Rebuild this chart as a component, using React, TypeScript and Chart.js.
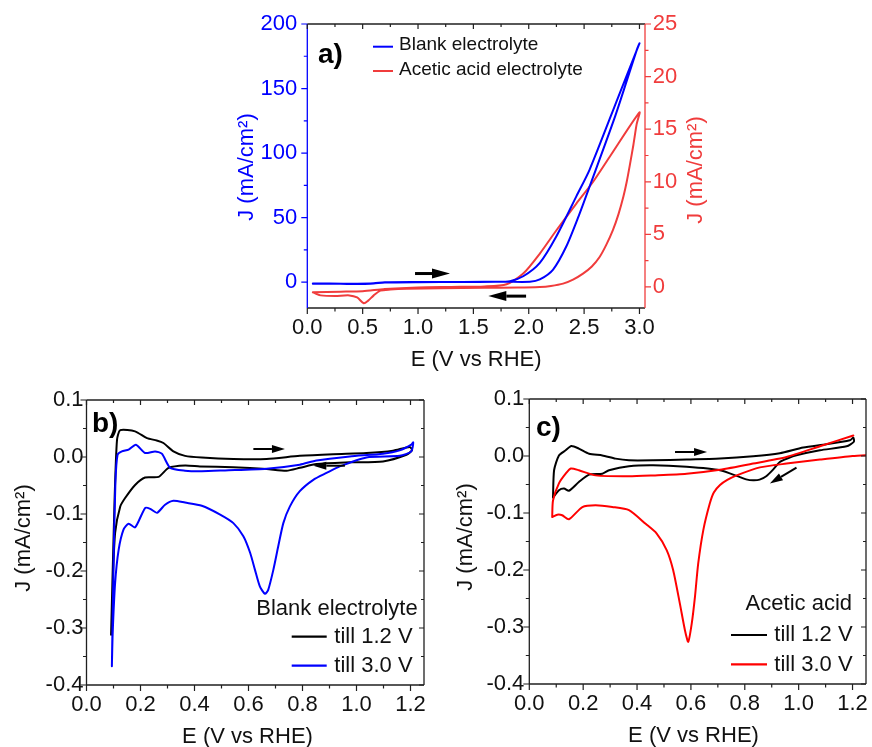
import React, { useEffect, useRef } from 'react';
import { Chart, registerables } from 'chart.js';
Chart.register(...registerables);

const FONT = '"Liberation Sans", Arial, Helvetica, sans-serif';
const BLUE = '#0000ff';
const RED_A = '#f03c3c';
const RED_C = '#ff0000';
const BLACK = '#000000';
const AXIS = '#1f1f1f';
const TEXT = '#111111';

// ---------- Panel a) data ----------
const aBlankE = [0.05,0.3,0.5,0.6,0.7,1.0,1.4,1.7,1.83,1.95,2.10,2.25,2.43,2.55,2.81,3.0,2.976,2.78,2.55,2.45,2.34,2.22,2.10,2.01,1.8,1.4,1.0,0.7,0.6,0.45,0.2,0.05];
const aBlankJ = [-1.2,-1.3,-1.4,-1.0,-0.3,0,0.1,0.3,0.8,4.6,15.0,35.6,66.5,87.2,143.8,185,180,128.4,74.2,51,27.8,9.8,2.1,0.3,0.3,0.2,0.1,-0.1,-0.9,-1.2,-1.1,-1.1];
const aAceticE = [0.05,0.3,0.5,0.7,1.0,1.3,1.6,1.8,1.95,2.10,2.25,2.43,2.58,2.73,3.0,2.975,2.945,2.915,2.885,2.855,2.81,2.76,2.70,2.64,2.57,2.49,2.40,2.31,2.2,2.10,1.9,1.6,1.2,0.9,0.75,0.66,0.6,0.55,0.51,0.45,0.38,0.25,0.12,0.08,0.05];
const aAceticJ = [-0.5,-0.45,-0.4,-0.2,-0.05,0,0.05,0.26,1.27,3.17,5.39,7.93,9.98,12.36,16.6,15.5,13.5,11.7,10.0,8.6,6.9,5.4,4.0,2.85,1.95,1.27,0.7,0.32,0.1,0.0,-0.06,-0.08,-0.12,-0.18,-0.25,-0.35,-0.8,-1.3,-1.55,-1.0,-0.8,-0.85,-0.8,-0.65,-0.5];
const aXTicks = [0, 0.5, 1.0, 1.5, 2.0, 2.5, 3.0];
const aLeftTicks = [0, 50, 100, 150, 200];
const aRightTicks = [0, 5, 10, 15, 20, 25];
const aArrowFwd = [0.973, 6.7, 1.289, 6.7];
const aArrowRev = [1.976, -10.8, 1.635, -10.8];
const aLegend = ['Blank electrolyte', 'Acetic acid electrolyte'];

// ---------- Panel b) data ----------
const bTill12E = [0.091,0.104,0.113,0.125,0.18,0.224,0.26,0.285,0.322,0.365,0.427,0.544,0.667,0.79,0.914,1.037,1.135,1.197,1.206,1.185,1.098,0.975,0.852,0.79,0.741,0.667,0.544,0.42,0.365,0.304,0.267,0.217,0.18,0.143,0.125,0.106,0.097,0.091];
const bTill12J = [-0.312,-0.075,0.030,0.047,0.045,0.033,0.029,0.0245,0.010,0.002,-0.001,-0.0035,-0.0035,0.002,0.005,0.007,0.011,0.0175,0.012,0.004,-0.0077,-0.0094,-0.0123,-0.019,-0.024,-0.021,-0.018,-0.0165,-0.015,-0.019,-0.035,-0.036,-0.049,-0.072,-0.087,-0.133,-0.221,-0.312];
const bTill30E = [0.094,0.10,0.107,0.115,0.131,0.156,0.183,0.217,0.254,0.279,0.31,0.365,0.427,0.513,0.667,0.79,0.852,0.975,1.098,1.16,1.203,1.21,1.203,1.16,1.037,0.938,0.889,0.84,0.79,0.753,0.729,0.71,0.692,0.673,0.661,0.642,0.624,0.606,0.581,0.544,0.495,0.427,0.365,0.322,0.291,0.261,0.236,0.217,0.18,0.156,0.137,0.119,0.106,0.097,0.094];
const bTill30J = [-0.367,-0.19,-0.046,0.004,0.0098,0.0128,0.0216,0.007,0.0098,0.0058,-0.019,-0.024,-0.025,-0.0235,-0.0205,-0.0135,-0.006,0.001,0.0058,0.0116,0.0216,0.0256,0.0098,0.002,-0.0007,-0.0165,-0.028,-0.04,-0.06,-0.087,-0.116,-0.157,-0.198,-0.233,-0.24,-0.227,-0.198,-0.168,-0.139,-0.116,-0.101,-0.0855,-0.080,-0.0767,-0.0837,-0.098,-0.091,-0.0895,-0.1235,-0.117,-0.1275,-0.163,-0.221,-0.309,-0.367];
const bArrowFwd = [0.618, 0.014, 0.735, 0.014];
const bArrowRev = [0.957, -0.0153, 0.840, -0.0153];
const bLegendTitle = 'Blank electrolyte';

// ---------- Panel c) data ----------
const cTill12E = [0.088,0.092,0.11,0.135,0.156,0.184,0.222,0.271,0.32,0.37,0.46,0.584,0.708,0.831,0.93,1.017,1.103,1.19,1.203,1.205,1.178,1.079,0.992,0.96,0.93,0.905,0.881,0.855,0.831,0.805,0.782,0.708,0.584,0.46,0.37,0.296,0.271,0.222,0.184,0.147,0.129,0.11,0.088];
const cTill12J = [-0.073,-0.025,0.001,0.010,0.0175,0.013,0.004,0.001,-0.0046,-0.0075,-0.0075,-0.0063,-0.0046,-0.0005,0.005,0.015,0.0205,0.0275,0.032,0.025,0.017,0.01,0.0012,-0.004,-0.0105,-0.024,-0.035,-0.0415,-0.0426,-0.041,-0.037,-0.025,-0.019,-0.0163,-0.018,-0.025,-0.031,-0.0327,-0.0456,-0.061,-0.057,-0.060,-0.073];
const cTill30E = [0.085,0.088,0.11,0.135,0.154,0.184,0.246,0.37,0.46,0.584,0.708,0.831,0.955,1.079,1.203,1.24,1.27,1.2,1.079,0.955,0.856,0.77,0.735,0.708,0.685,0.67,0.646,0.627,0.615,0.603,0.59,0.578,0.559,0.534,0.51,0.473,0.432,0.37,0.308,0.246,0.197,0.147,0.122,0.104,0.085];
const cTill30J = [-0.107,-0.078,-0.048,-0.031,-0.022,-0.025,-0.034,-0.0356,-0.034,-0.031,-0.024,-0.0133,-0.0017,0.017,0.036,null,0.002,0,-0.0063,-0.0133,-0.020,-0.034,-0.042,-0.051,-0.064,-0.0835,-0.130,-0.189,-0.247,-0.294,-0.326,-0.306,-0.259,-0.20,-0.165,-0.136,-0.119,-0.095,-0.0895,-0.0865,-0.0895,-0.111,-0.104,-0.103,-0.107];
const cArrowFwd = [0.541, 0.007, 0.660, 0.007];
const cArrowDiag = [0.992, -0.0204, 0.893, -0.0484];
const cLegendTitle = 'Acetic acid';

// ---------- shared for b) and c) ----------
const bcXTicks = [0, 0.2, 0.4, 0.6, 0.8, 1.0, 1.2];
const bcYTicks = [-0.4, -0.3, -0.2, -0.1, 0.0, 0.1];
const bcLegend = ['till 1.2 V', 'till 3.0 V'];
const xTitle = 'E (V vs RHE)';
const yTitle = 'J (mA/cm²)';

const pts = (xs: number[], ys: (number | null)[]) => xs.map((x, i) => ({ x, y: ys[i] }));
const steps = (from: number, to: number, step: number) => {
  const out: number[] = [];
  for (let i = 0; from + i * step <= to + 1e-9; i++) out.push(+(from + i * step).toFixed(6));
  return out;
};

function tickMarks(ctx: any, chart: any, id: string, side: string, values: number[], len: number, outward: boolean, color: string, lw = 1.2) {
  const s = chart.scales[id];
  const a = chart.chartArea;
  ctx.strokeStyle = color;
  ctx.lineWidth = lw;
  ctx.beginPath();
  for (const v of values) {
    if (v < s.min - 1e-9 || v > s.max + 1e-9) continue;
    const p = s.getPixelForValue(v);
    if (side === 'bottom') { ctx.moveTo(p, a.bottom); ctx.lineTo(p, a.bottom + (outward ? len : -len)); }
    else if (side === 'top') { ctx.moveTo(p, a.top); ctx.lineTo(p, a.top + (outward ? -len : len)); }
    else if (side === 'left') { ctx.moveTo(a.left, p); ctx.lineTo(a.left + (outward ? -len : len), p); }
    else { ctx.moveTo(a.right, p); ctx.lineTo(a.right + (outward ? len : -len), p); }
  }
  ctx.stroke();
}

function frame(ctx: any, chart: any, colors: { left: string; right: string; top: string; bottom: string }, lw = 1.3) {
  const a = chart.chartArea;
  const seg = (x0: number, y0: number, x1: number, y1: number, c: string) => {
    ctx.strokeStyle = c; ctx.lineWidth = lw; ctx.beginPath(); ctx.moveTo(x0, y0); ctx.lineTo(x1, y1); ctx.stroke();
  };
  seg(a.left, a.top, a.right, a.top, colors.top);
  seg(a.left, a.bottom, a.right, a.bottom, colors.bottom);
  seg(a.left, a.top, a.left, a.bottom, colors.left);
  seg(a.right, a.top, a.right, a.bottom, colors.right);
}

function arrow(ctx: any, chart: any, xId: string, yId: string, c: number[], color: string, headLen: number, headHalf: number, lw: number) {
  const xs = chart.scales[xId], ys = chart.scales[yId];
  const X0 = xs.getPixelForValue(c[0]), Y0 = ys.getPixelForValue(c[1]);
  const X1 = xs.getPixelForValue(c[2]), Y1 = ys.getPixelForValue(c[3]);
  const ang = Math.atan2(Y1 - Y0, X1 - X0);
  const bx = X1 - headLen * Math.cos(ang), by = Y1 - headLen * Math.sin(ang);
  ctx.strokeStyle = color; ctx.lineWidth = lw;
  ctx.beginPath(); ctx.moveTo(X0, Y0); ctx.lineTo(bx, by); ctx.stroke();
  ctx.fillStyle = color;
  ctx.beginPath();
  ctx.moveTo(X1, Y1);
  ctx.lineTo(bx + headHalf * Math.sin(ang), by - headHalf * Math.cos(ang));
  ctx.lineTo(bx - headHalf * Math.sin(ang), by + headHalf * Math.cos(ang));
  ctx.closePath(); ctx.fill();
}

function txt(ctx: any, s: string, x: number, y: number, font: string, color: string, align = 'left', rot = 0) {
  ctx.save();
  ctx.translate(x, y);
  if (rot) ctx.rotate(rot);
  ctx.font = font; ctx.fillStyle = color; ctx.textAlign = align; ctx.textBaseline = 'alphabetic';
  ctx.fillText(s, 0, 0);
  ctx.restore();
}

function seg(ctx: any, x0: number, y0: number, x1: number, y1: number, color: string, lw: number) {
  ctx.strokeStyle = color; ctx.lineWidth = lw; ctx.beginPath(); ctx.moveTo(x0, y0); ctx.lineTo(x1, y1); ctx.stroke();
}

function scaleOpt(min: number, max: number, ticks: number[], fmt: (v: number) => string, color: string, pad: number, fit: (s: any) => void, extra: any = {}) {
  return {
    type: 'linear', min, max,
    grid: { display: false, drawTicks: false },
    border: { display: false },
    afterBuildTicks: (s: any) => { s.ticks = ticks.map((v) => ({ value: v })); },
    afterFit: fit,
    ticks: { padding: pad, color, autoSkip: false, maxRotation: 0, font: { family: FONT, size: 22 }, callback: (v: any) => fmt(Number(v)) },
    ...extra,
  };
}

const lineDs = (data: any[], color: string, yAxisID = 'y', lw = 2, tension = 0.25) => ({
  data, showLine: true, borderColor: color, backgroundColor: color, borderWidth: lw, pointRadius: 0, tension, fill: false, yAxisID, spanGaps: false,
  borderJoinStyle: 'round', borderCapStyle: 'round',
});

const baseOpts = (padding: any) => ({
  animation: false, responsive: false, maintainAspectRatio: false, events: [],
  layout: { padding },
  plugins: { legend: { display: false }, tooltip: { enabled: false }, title: { display: false } },
});

function buildA() {
  const decor = {
    id: 'decorA',
    afterDraw(chart: any) {
      const ctx = chart.ctx; const a = chart.chartArea;
      ctx.save();
      frame(ctx, chart, { left: BLUE, right: RED_A, top: AXIS, bottom: AXIS });
      tickMarks(ctx, chart, 'x', 'bottom', aXTicks, 6, true, AXIS);
      tickMarks(ctx, chart, 'x', 'bottom', steps(0.25, 2.75, 0.5), 3.5, true, AXIS);
      tickMarks(ctx, chart, 'x', 'top', aXTicks, 5, false, AXIS);
      tickMarks(ctx, chart, 'x', 'top', steps(0.25, 2.75, 0.5), 3, false, AXIS);
      tickMarks(ctx, chart, 'y', 'left', aLeftTicks, 6, true, BLUE);
      tickMarks(ctx, chart, 'y', 'left', steps(25, 175, 50), 3.5, true, BLUE);
      tickMarks(ctx, chart, 'y1', 'right', aRightTicks, 6, true, RED_A);
      tickMarks(ctx, chart, 'y1', 'right', steps(2.5, 22.5, 5), 3.5, true, RED_A);
      arrow(ctx, chart, 'x', 'y', aArrowFwd, BLACK, 18, 5, 3);
      arrow(ctx, chart, 'x', 'y', aArrowRev, BLACK, 18, 5, 3);
      txt(ctx, 'a)', a.left + 10.7, a.top + 39.3, `bold 28px ${FONT}`, BLACK);
      seg(ctx, a.left + 65.7, a.top + 22.7, a.left + 85.7, a.top + 22.7, BLUE, 2);
      seg(ctx, a.left + 65.7, a.top + 47, a.left + 85.7, a.top + 47, RED_A, 2);
      txt(ctx, aLegend[0], a.left + 91.7, a.top + 26, `19px ${FONT}`, TEXT);
      txt(ctx, aLegend[1], a.left + 91.7, a.top + 51, `19px ${FONT}`, TEXT);
      const cy = (a.top + a.bottom) / 2;
      txt(ctx, yTitle, a.left - 54, cy + 1, `22px ${FONT}`, BLUE, 'center', -Math.PI / 2);
      txt(ctx, yTitle, a.right + 57, cy + 4, `22px ${FONT}`, RED_A, 'center', -Math.PI / 2);
      txt(ctx, xTitle, (a.left + a.right) / 2, a.bottom + 58, `22px ${FONT}`, TEXT, 'center');
      ctx.restore();
    },
  };
  return {
    type: 'scatter',
    data: { datasets: [lineDs(pts(aBlankE, aBlankJ), BLUE, 'y'), lineDs(pts(aAceticE, aAceticJ), RED_A, 'y1')] },
    options: {
      ...baseOpts({ top: 24, left: 0, right: 0, bottom: 0 }),
      scales: {
        x: scaleOpt(0, 3.05, aXTicks, (v) => v.toFixed(1), TEXT, 7, (s: any) => { s.height = 72; }, { position: 'bottom' }),
        y: scaleOpt(-20, 200, aLeftTicks, (v) => String(v), BLUE, 10, (s: any) => { s.width = 107.3; }, { position: 'left' }),
        y1: scaleOpt(-2, 25, aRightTicks, (v) => String(v), RED_A, 7.7, (s: any) => { s.width = 75; }, { position: 'right' }),
      },
    },
    plugins: [decor],
  };
}

function buildBC(which: 'b' | 'c') {
  const isB = which === 'b';
  const c2 = isB ? BLUE : RED_C;
  const decor = {
    id: 'decor' + which,
    afterDraw(chart: any) {
      const ctx = chart.ctx; const a = chart.chartArea;
      ctx.save();
      frame(ctx, chart, { left: AXIS, right: AXIS, top: AXIS, bottom: AXIS });
      tickMarks(ctx, chart, 'x', 'bottom', bcXTicks, 6, true, AXIS);
      tickMarks(ctx, chart, 'x', 'bottom', steps(0.1, 1.1, 0.2), 3.5, true, AXIS);
      tickMarks(ctx, chart, 'x', 'top', bcXTicks, 5, false, AXIS);
      tickMarks(ctx, chart, 'x', 'top', steps(0.1, 1.1, 0.2), 3, false, AXIS);
      tickMarks(ctx, chart, 'y', 'left', bcYTicks, 6, true, AXIS);
      tickMarks(ctx, chart, 'y', 'left', steps(-0.35, 0.05, 0.1), 3.5, true, AXIS);
      tickMarks(ctx, chart, 'y', 'right', bcYTicks, 5, false, AXIS);
      tickMarks(ctx, chart, 'y', 'right', steps(-0.35, 0.05, 0.1), 3, false, AXIS);
      const f = `22px ${FONT}`;
      if (isB) {
        arrow(ctx, chart, 'x', 'y', bArrowFwd, BLACK, 13, 4, 2);
        arrow(ctx, chart, 'x', 'y', bArrowRev, BLACK, 13, 4, 2);
        txt(ctx, 'b)', a.left + 5.5, a.top + 32, `bold 28px ${FONT}`, BLACK);
        txt(ctx, bLegendTitle, a.right - 6.3, a.top + 215, f, TEXT, 'right');
        seg(ctx, a.right - 132.3, a.top + 236.7, a.right - 97.3, a.top + 236.7, BLACK, 2.2);
        seg(ctx, a.right - 132.3, a.top + 265.7, a.right - 97.3, a.top + 265.7, c2, 2.2);
        txt(ctx, bcLegend[0], a.right - 89.7, a.top + 243.3, f, TEXT);
        txt(ctx, bcLegend[1], a.right - 89.7, a.top + 272.3, f, TEXT);
        txt(ctx, xTitle, a.left + 161, a.bottom + 58, f, TEXT, 'center');
      } else {
        arrow(ctx, chart, 'x', 'y', cArrowFwd, BLACK, 13, 4, 2);
        arrow(ctx, chart, 'x', 'y', cArrowDiag, BLACK, 13, 4, 2);
        txt(ctx, 'c)', a.left + 6.7, a.top + 37, `bold 28px ${FONT}`, BLACK);
        txt(ctx, cLegendTitle, a.right - 14, a.top + 211, f, TEXT, 'right');
        seg(ctx, a.right - 135, a.top + 236, a.right - 99, a.top + 236, BLACK, 2.2);
        seg(ctx, a.right - 135, a.top + 265.3, a.right - 99, a.top + 265.3, c2, 2.2);
        txt(ctx, bcLegend[0], a.right - 91.7, a.top + 242, f, TEXT);
        txt(ctx, bcLegend[1], a.right - 91.7, a.top + 271.7, f, TEXT);
        txt(ctx, xTitle, a.left + 164.2, a.bottom + 58, f, TEXT, 'center');
      }
      txt(ctx, yTitle, a.left - 57, (a.top + a.bottom) / 2 - 4.5, f, TEXT, 'center', -Math.PI / 2);
      ctx.restore();
    },
  };
  const d1 = isB ? pts(bTill12E, bTill12J) : pts(cTill12E, cTill12J);
  const d2 = isB ? pts(bTill30E, bTill30J) : pts(cTill30E, cTill30J);
  return {
    type: 'scatter',
    data: { datasets: [lineDs(d2, c2, 'y', 2, 0.22), lineDs(d1, BLACK, 'y', 2, 0.22)] },
    options: {
      ...baseOpts(isB ? { top: 20, right: 12, left: 0, bottom: 0 } : { top: 19, right: 24, left: 0, bottom: 0 }),
      scales: {
        x: scaleOpt(0, 1.25, bcXTicks, (v) => v.toFixed(1), TEXT, 6.5, (s: any) => { s.height = isB ? 62 : 63; }, { position: 'bottom' }),
        y: scaleOpt(-0.4, 0.1, bcYTicks, (v) => v.toFixed(1), TEXT, isB ? 3 : 5, (s: any) => { s.width = isB ? 86.5 : 93.3; }, { position: 'left' }),
      },
    },
    plugins: [decor],
  };
}

function Panel({ left, top, width, height, build }: { left: number; top: number; width: number; height: number; build: () => any }) {
  const ref = useRef<HTMLCanvasElement>(null);
  useEffect(() => {
    const chart = new Chart(ref.current as HTMLCanvasElement, build());
    return () => chart.destroy();
  }, []);
  return (
    <canvas ref={ref} width={width} height={height} style={{ position: 'absolute', left, top, width, height }} />
  );
}

export default function App() {
  return (
    <div style={{ position: 'fixed', left: 0, top: 0, width: 872, height: 747, overflow: 'hidden', background: '#ffffff' }}>
      <Panel left={200} top={0} width={520} height={380} build={buildA} />
      <Panel left={0} top={380} width={436} height={367} build={() => buildBC('b')} />
      <Panel left={436} top={380} width={454} height={367} build={() => buildBC('c')} />
    </div>
  );
}
